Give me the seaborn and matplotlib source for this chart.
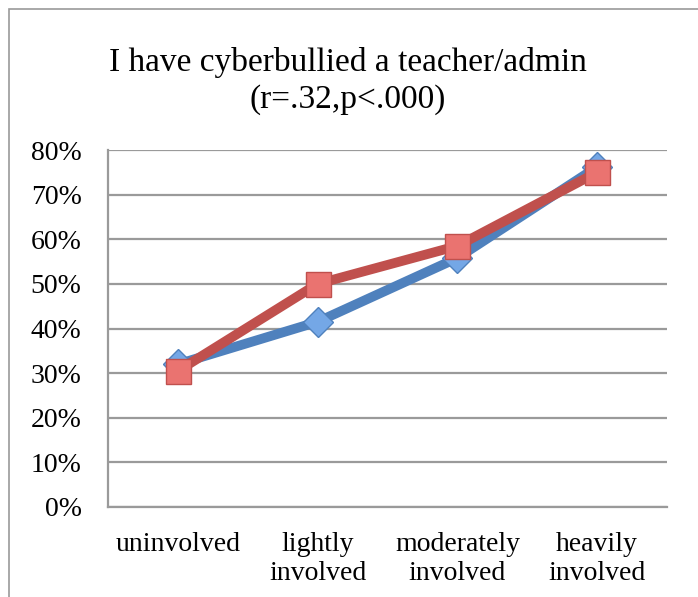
import matplotlib
matplotlib.use("Agg")
import matplotlib.pyplot as plt
from matplotlib.patches import Rectangle
from matplotlib.ticker import PercentFormatter, MultipleLocator
import pandas as pd
import seaborn as sns

# values
categories = ["uninvolved", "lightly\ninvolved", "moderately\ninvolved", "heavily\ninvolved"]
blue_values = [0.32, 0.415, 0.558, 0.762]
red_values = [0.305, 0.50, 0.585, 0.75]
title_lines = ["I have cyberbullied a teacher/admin", "(r=.32,p<.000)"]

sns.set_style("white")
plt.rcParams['font.family'] = ['Liberation Serif', 'DejaVu Serif']
plt.rcParams['text.color'] = 'black'
plt.rcParams['xtick.color'] = 'black'
plt.rcParams['ytick.color'] = 'black'

df = pd.DataFrame({"group": categories, "blue": blue_values, "red": red_values})

fig = plt.figure(figsize=(6.98, 5.97), dpi=100)
ax = fig.add_axes([108 / 698, 90 / 597, 559 / 698, 357 / 597])

# outer chart frame, runs off the right and bottom edges
fig.patches.append(Rectangle((9 / 698, -0.1), 1.2, (597 - 9) / 597 + 0.1,
                             transform=fig.transFigure, fill=False,
                             edgecolor="#9a9a9a", linewidth=1.2, zorder=0))

sns.lineplot(data=df, x="group", y="blue", ax=ax, color="#4F81BD", linewidth=7,
             marker="D", markersize=15, markerfacecolor="#74A7E6",
             markeredgecolor="#4F81BD", markeredgewidth=1, zorder=3, clip_on=False)
sns.lineplot(data=df, x="group", y="red", ax=ax, color="#C0504D", linewidth=7,
             marker="s", markersize=18, markerfacecolor="#EA7370",
             markeredgecolor="#C0504D", markeredgewidth=1, zorder=4, clip_on=False)

ax.set_xlim(-0.5, 3.5)
ax.set_ylim(0, 0.8)
ax.yaxis.set_major_locator(MultipleLocator(0.1))
ax.yaxis.set_major_formatter(PercentFormatter(xmax=1, decimals=0))
ax.grid(axis="y", color="#9a9a9a", linewidth=1.6)
ax.grid(axis="x", visible=False)
ax.set_axisbelow(True)
for side in ["top", "right"]:
    ax.spines[side].set_visible(False)
for side in ["left", "bottom"]:
    ax.spines[side].set_color("#9a9a9a")
    ax.spines[side].set_linewidth(1.6)

ax.tick_params(axis="y", length=0, pad=19, labelsize=20, labelcolor="black")
ax.tick_params(axis="x", length=0, pad=18, labelsize=20, labelcolor="black")
ax.set_xlabel("")
ax.set_ylabel("")
for lbl in ax.get_xticklabels():
    lbl.set_linespacing(1.2)

fig.text(348 / 698, 1 - 62 / 597, title_lines[0], ha="center", va="center", fontsize=24)
fig.text(348 / 698, 1 - 100 / 597, title_lines[1], ha="center", va="center", fontsize=24)

fig.savefig("out.png", dpi=100, facecolor="white")
